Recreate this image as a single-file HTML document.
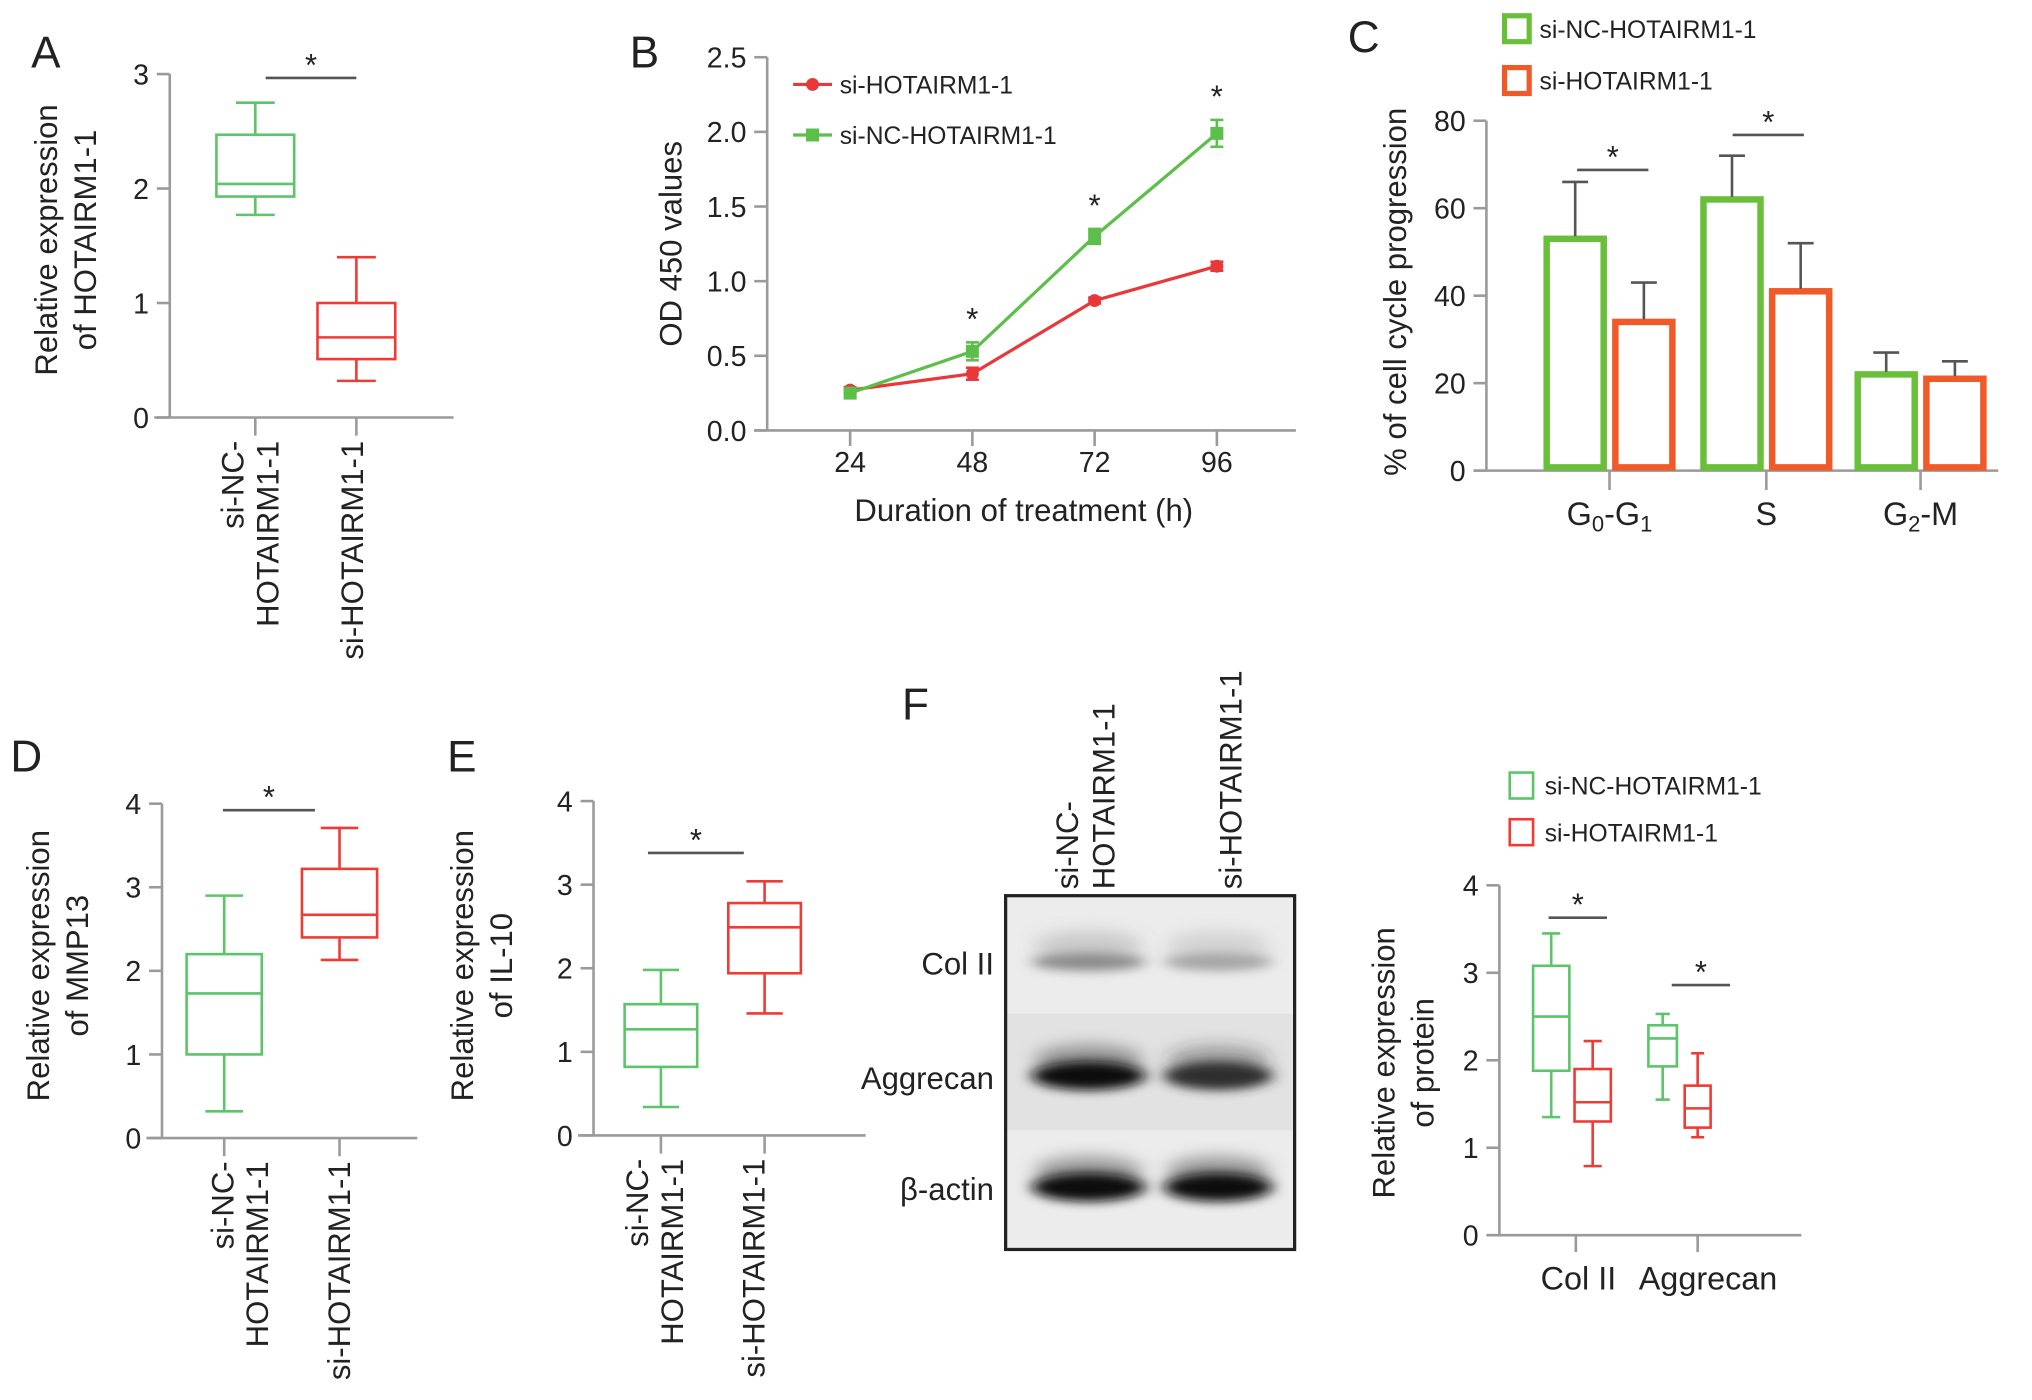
<!DOCTYPE html>
<html><head><meta charset="utf-8"><style>
html,body{margin:0;padding:0;background:#fff;}
svg{display:block;}
text{font-family:"Liberation Sans",sans-serif;fill:#222;}
.tk{font-family:"Liberation Sans Narrow","Liberation Sans",sans-serif;font-size:22px;}
.ttl{font-size:24px;}
.pl{font-size:34px;}
</style></head><body>
<svg id="fig" xmlns="http://www.w3.org/2000/svg" width="2032" height="1400" viewBox="0 0 1568 1080">
<defs>
<filter id="blur6" x="-50%" y="-200%" width="200%" height="500%"><feGaussianBlur stdDeviation="7 6"/></filter>
<filter id="blur3" x="-50%" y="-200%" width="200%" height="500%"><feGaussianBlur stdDeviation="6 4"/></filter>
</defs>
</svg>
<script>
// ---- Panel A data ----
const aCats = ['si-NC-HOTAIRM1-1','si-HOTAIRM1-1'];
const aNC = [1.77, 1.93, 2.04, 2.47, 2.75];   // min,q1,med,q3,max
const aSi = [0.32, 0.51, 0.70, 1.00, 1.40];
const aTicks = [0,1,2,3];
// ---- Panel B data ----
const bHours = [24,48,72,96];
const bRed = [0.27,0.38,0.87,1.10];
const bRedErr = [0.02,0.04,0.02,0.03];
const bGreen = [0.25,0.53,1.30,1.99];
const bGreenErr = [0.03,0.06,0.05,0.09];
const bTicks = [0,0.5,1,1.5,2,2.5];
const bStars = [48,72,96];
// ---- Panel C data ----
const cCats = ['G0-G1','S','G2-M'];
const cNC = [53,62,22];
const cNCErr = [13,10,5];
const cSi = [34,41,21];
const cSiErr = [9,11,4];
const cTicks = [0,20,40,60,80];
// ---- Panel D data ----
const dNC = [0.32,1.00,1.73,2.20,2.90];
const dSi = [2.13,2.40,2.67,3.22,3.71];
const dTicks = [0,1,2,3,4];
// ---- Panel E data ----
const eNC = [0.34,0.82,1.27,1.57,1.98];
const eSi = [1.46,1.94,2.49,2.78,3.04];
const eTicks = [0,1,2,3,4];
// ---- Panel F data ----
const fCats = ['Col II','Aggrecan'];
const fNC = [[1.35,1.88,2.50,3.08,3.45],[1.55,1.93,2.25,2.40,2.53]];
const fSi = [[0.79,1.30,1.52,1.90,2.22],[1.12,1.23,1.45,1.71,2.08]];
const fTicks = [0,1,2,3,4];
const blotRows = ['Col II','Aggrecan','β-actin'];
const blotIntensity = [[0.45,0.35],[0.95,0.82],[0.97,0.97]];

const NS='http://www.w3.org/2000/svg';
const svg=document.getElementById('fig');
const GREEN='#5cc46a', RED='#ee3b35', AX='#9a9a9a';
function el(tag,attrs,parent){const e=document.createElementNS(NS,tag);for(const k in attrs)e.setAttribute(k,attrs[k]);(parent||svg).appendChild(e);return e;}
function txt(s,attrs,parent){const e=el('text',attrs,parent);e.textContent=s;return e;}
function lin(d0,d1,r0,r1){return v=>r0+(v-d0)*(r1-r0)/(d1-d0);}

function yAxis(g,x,y,ticks,fmt,xEnd,tl){
  const a=el('line',{x1:x,x2:x,y1:y(ticks[ticks.length-1]),y2:y(ticks[0]),stroke:AX,'stroke-width':2},g);
  
  ticks.forEach(t=>{
    el('line',{x1:x-(tl||10),x2:x,y1:y(t),y2:y(t),stroke:AX,'stroke-width':2},g);
    const l=txt(fmt(t),{x:x-16,y:y(t)+8,'text-anchor':'end',class:'tk'},g);
    
  });
}
function box(g,cx,w,v,y,col,name){
  const b=el('g',{},g);
  
  const cap=w*0.5;
  el('line',{x1:cx,x2:cx,y1:y(v[0]),y2:y(v[1]),stroke:col,'stroke-width':2},b);
  el('line',{x1:cx,x2:cx,y1:y(v[3]),y2:y(v[4]),stroke:col,'stroke-width':2},b);
  el('line',{x1:cx-cap/2,x2:cx+cap/2,y1:y(v[0]),y2:y(v[0]),stroke:col,'stroke-width':2},b);
  el('line',{x1:cx-cap/2,x2:cx+cap/2,y1:y(v[4]),y2:y(v[4]),stroke:col,'stroke-width':2},b);
  el('rect',{x:cx-w/2,y:y(v[3]),width:w,height:y(v[1])-y(v[3]),fill:'none',stroke:col,'stroke-width':2},b);
  el('line',{x1:cx-w/2,x2:cx+w/2,y1:y(v[2]),y2:y(v[2]),stroke:col,'stroke-width':2},b);
}
function sig(g,x1,x2,yy){
  const s=el('g',{},g);
  el('line',{x1:x1,x2:x2,y1:yy,y2:yy,stroke:'#555','stroke-width':2},s);
  txt('*',{x:(x1+x2)/2,y:yy-2,'text-anchor':'middle','font-size':24},s);
}
function panelLabel(s,x,y){const t=txt(s,{x:x,y:y,class:'pl'});}
function rotLabel(g,lines,x,ytop,name,dx,anchor){
  const t=el('text',{transform:`translate(${x},${ytop}) rotate(-90)`,'text-anchor':anchor||'end','font-size':24},g);
  
  lines.forEach((s,i)=>{const ts=el('tspan',{x:0,dy:i?(dx||27):0},t);ts.textContent=s;});
}
function yTitle(g,lines,x,yc,name){
  const t=el('text',{transform:`translate(${x},${yc}) rotate(-90)`,'text-anchor':'middle',class:'ttl'},g);
  
  lines.forEach((s,i)=>{const ts=el('tspan',{x:0,dy:i?30:0},t);ts.textContent=s;});
}
function twoBox(name,ax,axT,ncVals,siVals,ticks,xs,bw,xr,sigSpec,titles,titleX,titleY,xlabX){
  const g=el('g',{});
  const y=lin(0,ticks[ticks.length-1],ax.y0,axT);
  yAxis(g,ax.x,y,ticks,t=>String(t));
  const xa=el('line',{x1:ax.x-12,x2:xr,y1:ax.y0,y2:ax.y0,stroke:AX,'stroke-width':2},g);
  
  xs.forEach(x=>el('line',{x1:x,x2:x,y1:ax.y0,y2:ax.y0+14,stroke:AX,'stroke-width':2},g));
  box(g,xs[0],bw,ncVals,y,GREEN,'box-si-nc');
  box(g,xs[1],bw,siVals,y,RED,'box-si-hotairm1');
  sig(g,sigSpec[0],sigSpec[1],sigSpec[2]);
  yTitle(g,titles,titleX,titleY,'y-axis-title');
  rotLabel(g,['si-NC-','HOTAIRM1-1'],xlabX[0],ax.y0+18,'x-label-si-nc');
  rotLabel(g,['si-HOTAIRM1-1'],xlabX[1],ax.y0+18,'x-label-si-hotairm1');
  return g;
}

// Panel A
panelLabel('A',24,52);
twoBox('panel-a-boxplot',{x:131,y0:322},57,aNC,aSi,aTicks,[197,275],60,350,[205,275,60],['Relative expression','of HOTAIRM1-1'],44,185,[188,280]);

// Panel B
panelLabel('B',486,52);
(function(){
  const g=el('g',{});
  const y=lin(0,2.5,332,44), x=lin(24,96,656,939);
  yAxis(g,592,y,bTicks,t=>t.toFixed(1));
  el('line',{x1:582,x2:1000,y1:332,y2:332,stroke:AX,'stroke-width':2},g);
  bHours.forEach(h=>{el('line',{x1:x(h),x2:x(h),y1:332,y2:344,stroke:AX,'stroke-width':2},g);
    const l=txt(String(h),{x:x(h),y:364,'text-anchor':'middle',class:'tk'},g);});
  function series(vals,err,col,name,sq){
    const s=el('g',{},g);
    el('polyline',{points:vals.map((v,i)=>x(bHours[i])+','+y(v)).join(' '),fill:'none',stroke:col,'stroke-width':2.5},s);
    vals.forEach((v,i)=>{const cx=x(bHours[i]);
      el('line',{x1:cx,x2:cx,y1:y(v+err[i]),y2:y(v-err[i]),stroke:col,'stroke-width':2},s);
      el('line',{x1:cx-5,x2:cx+5,y1:y(v+err[i]),y2:y(v+err[i]),stroke:col,'stroke-width':2},s);
      el('line',{x1:cx-5,x2:cx+5,y1:y(v-err[i]),y2:y(v-err[i]),stroke:col,'stroke-width':2},s);
      if(sq) el('rect',{x:cx-5,y:y(v)-5,width:10,height:10,fill:col},s); else el('circle',{cx:cx,cy:y(v),r:5,fill:col},s);});
  }
  series(bRed,bRedErr,'#e8383a','series-si-hotairm1',false);
  series(bGreen,bGreenErr,'#5cbf4a','series-si-nc',true);
  bStars.forEach(h=>{const i=bHours.indexOf(h);const t=txt('*',{x:x(h),y:y(bGreen[i]+bGreenErr[i])-10,'text-anchor':'middle','font-size':24},g);});
  const lg=el('g',{},g);
  el('line',{x1:612,x2:642,y1:65,y2:65,stroke:'#e8383a','stroke-width':2.5},lg);el('circle',{cx:627,cy:65,r:5,fill:'#e8383a'},lg);
  txt('si-HOTAIRM1-1',{x:648,y:72,'font-size':19},lg);
  el('line',{x1:612,x2:642,y1:104,y2:104,stroke:'#5cbf4a','stroke-width':2.5},lg);el('rect',{x:622,y:99,width:10,height:10,fill:'#5cbf4a'},lg);
  txt('si-NC-HOTAIRM1-1',{x:648,y:111,'font-size':19},lg);
  yTitle(g,['OD 450 values'],526,188,'y-axis-title');
  const xt=txt('Duration of treatment (h)',{x:790,y:402,'text-anchor':'middle',class:'ttl'},g);
})();

// Panel C
panelLabel('C',1040,40);
(function(){
  const g=el('g',{});
  const y=lin(0,80,363,93);
  yAxis(g,1147,y,cTicks,t=>String(t));
  el('line',{x1:1137,x2:1542,y1:363,y2:363,stroke:AX,'stroke-width':2},g);
  const centers=[1242,1363,1482], bw=49, gap=4;
  const labs=[['G','0','-G','1'],['S'],['G','2','-M']];
  cCats.forEach((c,i)=>{
    el('line',{x1:centers[i],x2:centers[i],y1:363,y2:378,stroke:AX,'stroke-width':2},g);
    const t=el('text',{x:centers[i],y:405,'text-anchor':'middle','font-size':25},g);
    labs[i].forEach((s,j)=>{const ts=el('tspan',j%2?{'font-size':17,dy:5}:{dy:j?-5:0},t);ts.textContent=s;});
    [[cNC,cNCErr,'#6abf3a',-1,'bar-si-nc-'],[cSi,cSiErr,'#f05a28',1,'bar-si-hotairm1-']].forEach(([v,e,col,sd,nm])=>{
      const x0=sd<0?centers[i]-gap/2-bw:centers[i]+gap/2;
      const r=el('rect',{x:x0+2.5,y:y(v[i]),width:bw-5,height:363-y(v[i])-2.5,fill:'none',stroke:col,'stroke-width':5},g);
      
      const ex=x0+bw/2;
      el('line',{x1:ex,x2:ex,y1:y(v[i])-2,y2:y(v[i]+e[i]),stroke:'#555','stroke-width':2},g);
      el('line',{x1:ex-10,x2:ex+10,y1:y(v[i]+e[i]),y2:y(v[i]+e[i]),stroke:'#555','stroke-width':2},g);
    });
  });
  sig(g,1217,1272,131);sig(g,1337,1392,104);
  yTitle(g,['% of cell cycle progression'],1085,225,'y-axis-title');
  const lg=el('g',{},g);
  el('rect',{x:1161,y:12,width:19,height:20,fill:'none',stroke:'#6abf3a','stroke-width':4},lg);
  txt('si-NC-HOTAIRM1-1',{x:1188,y:29,'font-size':19},lg);
  el('rect',{x:1161,y:52,width:19,height:20,fill:'none',stroke:'#f05a28','stroke-width':4},lg);
  txt('si-HOTAIRM1-1',{x:1188,y:69,'font-size':19},lg);
})();

// Panel D
panelLabel('D',8,595);
twoBox('panel-d-boxplot',{x:125,y0:878},620,dNC,dSi,dTicks,[173,262],58,322,[172,243,625],['Relative expression','of MMP13'],38,745,[180,270]);
// Panel E
panelLabel('E',345,595);
twoBox('panel-e-boxplot',{x:458,y0:876},618,eNC,eSi,eTicks,[510,590],56,668,[500,574,658],['Relative expression','of IL-10'],365,745,[500,590]);

// Panel F western blot
panelLabel('F',696,555);
(function(){
  const g=el('g',{});
  el('rect',{x:776,y:691,width:223,height:273,fill:'#ececec'},g);
  el('rect',{x:776,y:782,width:223,height:90,fill:'#e2e2e2'},g);
  const rowY=[742,830,916], lanes=[840,940], lw=[44,42];
  blotRows.forEach((r,i)=>{
    const t=txt(r,{x:767,y:rowY[i]+10,'text-anchor':'end','font-size':24},g);
    lanes.forEach((cx,j)=>{
      const k=blotIntensity[i][j];const c=Math.round(255*(1-k));
      el('ellipse',{cx:cx,cy:rowY[i]-12,rx:lw[j]-2,ry:12,fill:`rgba(${c},${c},${c},0.35)`,filter:'url(#blur6)'},g);
      const b=el('ellipse',{cx:cx,cy:rowY[i],rx:lw[j],ry:i===0?7:11,fill:`rgb(${c},${c},${c})`,filter:'url(#blur3)'},g);
      
    });
  });
  el('rect',{x:776,y:691,width:223,height:273,fill:'none',stroke:'#222','stroke-width':2.5},g);
  rotLabel(g,['si-NC-','HOTAIRM1-1'],832,686,'blot-lane-label-si-nc',28,'start');
  rotLabel(g,['si-HOTAIRM1-1'],958,686,'blot-lane-label-si-hotairm1',27,'start');
})();

// Panel F boxplot
(function(){
  const g=el('g',{});
  const y=lin(0,4,953,683);
  yAxis(g,1157,y,fTicks,t=>String(t));
  el('line',{x1:1147,x2:1390,y1:953,y2:953,stroke:AX,'stroke-width':2},g);
  const centers=[1216,1310];
  fCats.forEach((c,i)=>{
    el('line',{x1:centers[i],x2:centers[i],y1:953,y2:966,stroke:AX,'stroke-width':2},g);
    const t=txt(c,{x:centers[i]+(i?8:2),y:995,'text-anchor':'middle','font-size':25},g);
    box(g,centers[i]-(i?27:19),i?22:28,fNC[i],y,GREEN,'box-si-nc-'+c);
    box(g,centers[i]+(i?0:13),i?20:28,fSi[i],y,RED,'box-si-hotairm1-'+c);
  });
  sig(g,1195,1240,708);sig(g,1290,1335,760);
  yTitle(g,['Relative expression','of protein'],1076,820,'y-axis-title');
  const lg=el('g',{},g);
  el('rect',{x:1165,y:596,width:18,height:20,fill:'none',stroke:GREEN,'stroke-width':2},lg);
  txt('si-NC-HOTAIRM1-1',{x:1192,y:613,'font-size':19},lg);
  el('rect',{x:1165,y:632,width:18,height:20,fill:'none',stroke:RED,'stroke-width':2},lg);
  txt('si-HOTAIRM1-1',{x:1192,y:649,'font-size':19},lg);
})();
</script>
</body></html>
